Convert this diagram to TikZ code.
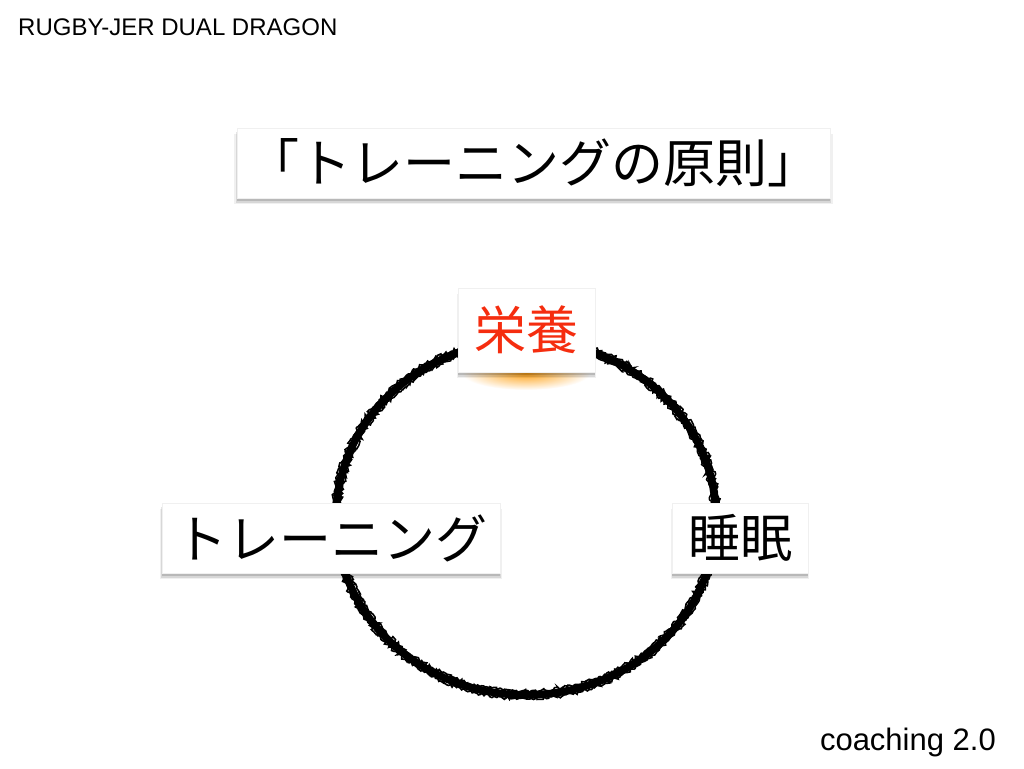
\documentclass[tikz,border=0pt]{standalone}
\usepackage{fontspec}
\setmainfont{Liberation Sans}
\newfontfamily\cjk{Noto Sans CJK JP}
\usetikzlibrary{shadows,decorations.pathmorphing}
\definecolor{kred}{RGB}{245,45,15}
\tikzset{
  card/.style={fill=white, draw=black!6, line width=0.5pt, inner sep=0pt,
    font=\cjk\fontsize{48}{56}\selectfont, text=black,
    drop shadow={shadow xshift=0pt, shadow yshift=-6pt, shadow scale=1.01, fill=black, opacity=0.06},
    drop shadow={shadow xshift=0pt, shadow yshift=-4.5pt, shadow scale=1.005, fill=black, opacity=0.10},
    drop shadow={shadow xshift=0pt, shadow yshift=-3pt, shadow scale=1.0, fill=black, opacity=0.14}},
  chalk/.style={draw=black, line cap=round},
  rough/.style={chalk, decorate, decoration={random steps, segment length=1.8pt, amplitude=1.6pt}},
  corner/.style={font=\fontsize{24}{26}\selectfont, text=black, anchor=west, inner sep=0pt}
}
\begin{document}
\begin{tikzpicture}[x=1pt,y=1pt]
\useasboundingbox (0,0) rectangle (1024,768);
\fill[white] (0,0) rectangle (1024,768);
% chalk circle
\pgfmathsetseed{7}
\draw[chalk, line width=7.5pt] (526,250) ellipse [x radius=190, y radius=177];
\draw[rough, line width=1.6pt] (526,250) ellipse [x radius=194, y radius=181];
\draw[rough, line width=1.6pt] (526,250) ellipse [x radius=186, y radius=173];
\draw[rough, line width=1.2pt] (526,250) ellipse [x radius=192, y radius=179];
\draw[rough, line width=1.2pt] (526,250) ellipse [x radius=188, y radius=175];
% orange glow under the nutrition card
\shade[inner color=orange!80!yellow, outer color=white, opacity=0.9] (526,395) ellipse [x radius=64, y radius=17];
% cards
\node[card, minimum width=593, minimum height=70, font=\cjk\fontsize{52}{60}\selectfont] (title) at (533.5,605) {「トレーニングの原則」};
\node[card, minimum width=137, minimum height=84, text=kred, font=\cjk\fontsize{52}{60}\selectfont] (eiyo) at (526.5,438) {栄養};
\node[card, minimum width=338, minimum height=70, font=\cjk\fontsize{52}{60}\selectfont] (train) at (331,230) {トレーニング};
\node[card, minimum width=136, minimum height=70, font=\cjk\fontsize{52}{60}\selectfont] (sleep) at (740,230) {睡眠};
% corner texts
\node[corner] (brand) at (18,741) {RUGBY-JER DUAL DRAGON};
\node[corner, anchor=east, font=\fontsize{31}{33}\selectfont] (coach) at (996,26) {coaching 2.0};
\end{tikzpicture}
\end{document}
